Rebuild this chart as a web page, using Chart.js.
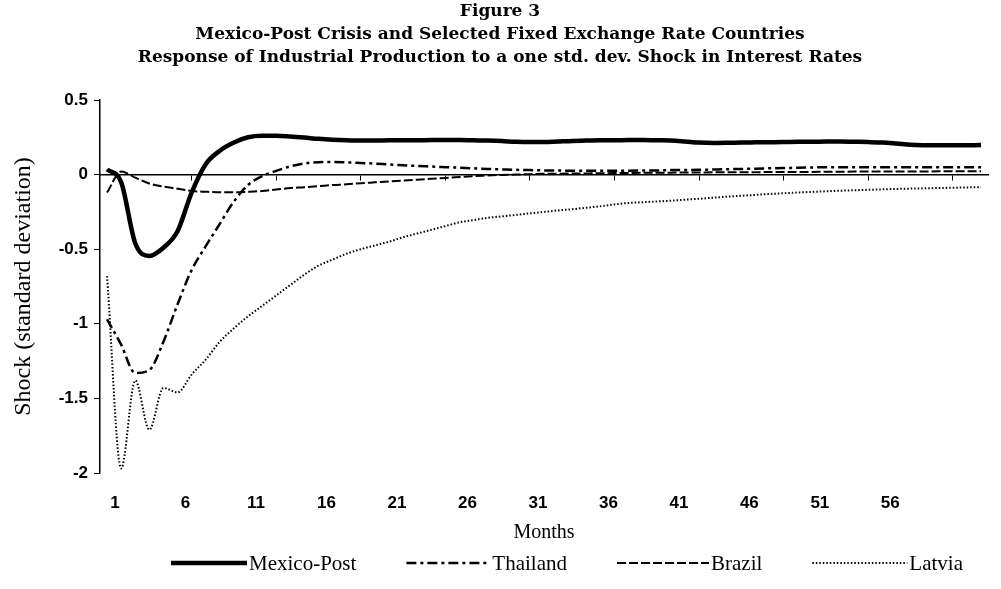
<!DOCTYPE html>
<html><head><meta charset="utf-8">
<script src="https://cdn.jsdelivr.net/npm/chart.js@4/dist/chart.umd.min.js"></script>
<style>html,body{margin:0;padding:0;background:#fff}</style>
</head><body>
<canvas id="c" width="1001" height="589"></canvas>
<script>
const months = [1,2,3,4,5,6,7,8,9,10,11,12,13,14,15,16,17,18,19,20,21,22,23,24,25,26,27,28,29,30,
  31,32,33,34,35,36,37,38,39,40,41,42,43,44,45,46,47,48,49,50,51,52,53,54,55,56,57,58,59,60,61,62,63];
const xTickLabels = ['1','6','11','16','21','26','31','36','41','46','51','56'];
const yTicks = [0.5, 0, -0.5, -1, -1.5, -2];
const titleLines = ['Figure 3', 'Mexico-Post Crisis and Selected Fixed Exchange Rate Countries',
  'Response of Industrial Production to a one std. dev. Shock in Interest Rates'];
const seriesNames = ['Mexico-Post', 'Thailand', 'Brazil', 'Latvia'];

const mexicoPost = [0.035,-0.05,-0.46,-0.545,-0.49,-0.38,-0.12,0.07,0.16,0.215,
  0.25,0.26,0.26,0.255,0.248,0.24,0.234,0.23,0.228,0.228,
  0.23,0.23,0.23,0.232,0.232,0.232,0.23,0.228,0.225,0.22,
  0.218,0.218,0.222,0.226,0.228,0.23,0.23,0.232,0.232,0.23,
  0.228,0.222,0.215,0.212,0.213,0.215,0.216,0.217,0.218,0.22,
  0.22,0.222,0.222,0.22,0.218,0.215,0.208,0.2,0.197,0.196,
  0.196,0.197,0.198];
const thailand = [-0.97,-1.14,-1.33,-1.31,-1.12,-0.87,-0.64,-0.48,-0.33,-0.18,
  -0.07,-0.01,0.025,0.055,0.075,0.083,0.085,0.082,0.078,0.074,
  0.068,0.063,0.058,0.054,0.05,0.046,0.042,0.038,0.035,0.032,
  0.03,0.028,0.027,0.026,0.025,0.025,0.025,0.026,0.027,0.028,
  0.03,0.031,0.032,0.034,0.036,0.038,0.04,0.042,0.044,0.046,
  0.048,0.05,0.05,0.05,0.05,0.05,0.05,0.05,0.05,0.05,
  0.05,0.05,0.05];
const brazil = [-0.12,0.02,-0.02,-0.06,-0.08,-0.095,-0.11,-0.115,-0.118,-0.118,
  -0.115,-0.11,-0.10,-0.09,-0.085,-0.078,-0.07,-0.065,-0.058,-0.052,
  -0.046,-0.04,-0.034,-0.028,-0.022,-0.016,-0.01,-0.006,-0.002,0.0,
  0.003,0.005,0.006,0.007,0.008,0.009,0.01,0.011,0.012,0.012,
  0.013,0.014,0.014,0.015,0.015,0.016,0.016,0.017,0.017,0.018,
  0.018,0.019,0.019,0.02,0.02,0.02,0.021,0.021,0.021,0.022,
  0.022,0.022,0.022];
const latvia = [-0.68,-1.97,-1.38,-1.71,-1.43,-1.46,-1.34,-1.24,-1.12,-1.03,
  -0.95,-0.88,-0.81,-0.74,-0.67,-0.61,-0.57,-0.53,-0.50,-0.475,
  -0.45,-0.42,-0.395,-0.37,-0.345,-0.32,-0.305,-0.29,-0.28,-0.27,
  -0.26,-0.25,-0.24,-0.232,-0.222,-0.212,-0.20,-0.19,-0.185,-0.18,
  -0.175,-0.168,-0.162,-0.155,-0.148,-0.142,-0.136,-0.13,-0.125,-0.12,
  -0.116,-0.112,-0.108,-0.105,-0.102,-0.099,-0.096,-0.094,-0.092,-0.09,
  -0.088,-0.086,-0.084];

const serif = "'Liberation Serif', 'Times New Roman', serif";
const titleSerif = "'DejaVu Serif', 'Liberation Serif', serif";
const sans = "'Liberation Sans', Arial, sans-serif";

const ds = (label, data, width, dash) => ({
  label, data, borderColor: '#000', backgroundColor: 'transparent',
  borderWidth: width, borderDash: dash, pointRadius: 0, pointHoverRadius: 0,
  cubicInterpolationMode: 'monotone', fill: false, xAxisID: 'x', yAxisID: 'y'
});

const lineLegend = {
  id: 'lineLegend',
  afterDraw(chart) {
    const ctx = chart.ctx;
    ctx.save();
    ctx.font = '21px ' + serif;
    ctx.textBaseline = 'middle';
    const lineLens = [76, 84, 92, 95];
    const gapText = 2, gapItem = 50, centerX = 567, y = 563;
    const items = chart.data.datasets.map((d, i) => ({ d, len: lineLens[i], w: ctx.measureText(d.label).width }));
    const total = items.reduce((s, it) => s + it.len + gapText + it.w, 0) + gapItem * (items.length - 1);
    let x = centerX - total / 2;
    items.forEach(it => {
      ctx.beginPath();
      ctx.setLineDash(it.d.borderDash || []);
      ctx.lineWidth = it.d.borderWidth;
      ctx.strokeStyle = '#000';
      ctx.moveTo(x, y); ctx.lineTo(x + it.len, y); ctx.stroke();
      x += it.len + gapText;
      ctx.setLineDash([]);
      ctx.fillStyle = '#000';
      ctx.fillText(it.d.label, x, y + 1);
      x += it.w + gapItem;
    });
    ctx.restore();
  }
};

new Chart(document.getElementById('c'), {
  type: 'line',
  data: {
    labels: months,
    datasets: [
      ds(seriesNames[0], mexicoPost, 4.5, []),
      ds(seriesNames[1], thailand, 2.5, [10, 4, 3, 4]),
      ds(seriesNames[2], brazil, 2, [9, 3]),
      ds(seriesNames[3], latvia, 2, [1.5, 2])
    ]
  },
  plugins: [lineLegend],
  options: {
    responsive: false,
    animation: false,
    layout: { padding: { left: 0, right: 1, top: 0, bottom: 44 } },
    plugins: {
      tooltip: { enabled: false },
      legend: { display: false },
      title: {
        display: true, text: titleLines, color: '#000',
        font: { family: titleSerif, size: 17, weight: 'bold', lineHeight: 23 / 17 },
        padding: { top: 0, bottom: 31 }
      }
    },
    scales: {
      x: {
        type: 'category', position: 'bottom', offset: true,
        border: { display: false },
        grid: { display: false, drawTicks: false },
        ticks: {
          autoSkip: false, maxRotation: 0, color: '#000', padding: 20, labelOffset: 8,
          font: { family: sans, size: 17, weight: 'bold' },
          callback: function(v, i) {
            return (i % 5 === 0 && i / 5 < xTickLabels.length) ? xTickLabels[i / 5] : '';
          }
        },
        title: { display: true, text: 'Months', color: '#000',
          font: { family: serif, size: 20 }, padding: { top: 0, bottom: 0 } },
        afterFit: (s) => { s.height = 72; }
      },
      x2: {
        type: 'category', position: { y: 0 }, offset: true,
        border: { display: true, color: '#000', width: 1.5 },
        grid: { display: true, drawOnChartArea: false, drawTicks: true, tickLength: 5, offset: false,
          tickColor: (c) => (c.index % 6 === 0 && c.index > 0 ? '#000' : 'rgba(0,0,0,0)') },
        ticks: { display: false, autoSkip: false }
      },
      y: {
        type: 'linear', position: 'left', min: -2, max: 0.5,
        border: { display: true, color: '#000', width: 1.5 },
        grid: { drawOnChartArea: false, drawTicks: true, tickLength: 6, color: '#000' },
        afterBuildTicks: (s) => { s.ticks = yTicks.map(v => ({ value: v })); },
        ticks: { color: '#000', padding: 6, font: { family: sans, size: 17, weight: 'bold' },
          callback: (v) => String(v) },
        title: { display: true, text: 'Shock (standard deviation)', color: '#000',
          font: { family: serif, size: 24 }, padding: { top: 9, bottom: 6 } },
        afterFit: (s) => { s.width = 100; }
      }
    }
  }
});
</script>
</body></html>
